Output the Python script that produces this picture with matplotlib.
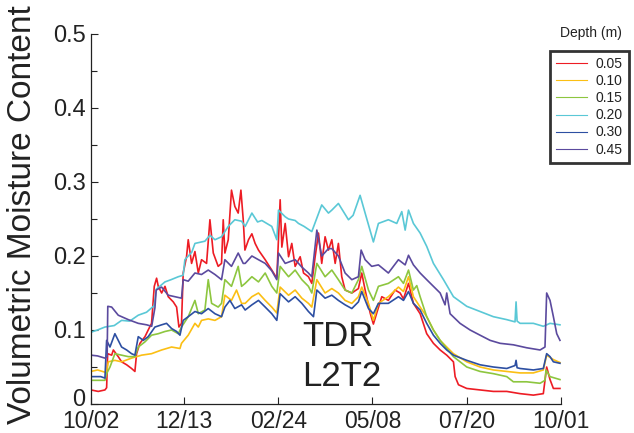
import matplotlib
matplotlib.use("Agg")
import matplotlib.pyplot as plt
import matplotlib.transforms as mtransforms
import numpy as np

plt.rcParams['font.family'] = ['Liberation Sans', 'DejaVu Sans']

# ---- data (day since 10/02, volumetric moisture content) ----
depth_labels = ['0.05', '0.10', '0.15', '0.20', '0.30', '0.45']
colors = ['#ed1c24', '#fbbf14', '#8dc63f', '#5ac8d6', '#2d4fa2', '#5b4a9e']

tick_days = [0, 72, 145, 218, 291, 364]
tick_labels = ['10/02', '12/13', '02/24', '05/08', '07/20', '10/01']

d05_days = [0, 5.6, 10.8, 12.1, 12.9, 16, 17.3, 21.1, 23.7, 27.6, 31.4, 34, 35.3, 37.9, 41.8, 44.3, 46.9, 49, 50.8, 52.1,
            54.7, 57.3, 59.8, 63.7, 66.3, 68.1, 70.1, 71.4, 74, 75.3, 77.9, 80.5, 83.1, 85.6, 89.5, 92.1, 94.7, 98.5,
            101.1, 102.4, 103.7, 106.3, 108.8, 111.4, 114, 116.1, 117.9, 119.2, 122, 124.6, 127.1, 129.7, 134.9, 140,
            143.9, 146.5, 147.8, 150.4, 153, 155.5, 158.1, 162, 164.6, 168.4, 171, 173.6, 176.2, 178.7, 181.3, 183.9,
            186.5, 189.1, 191.6, 194.2, 196.8, 202, 207.1, 209.7, 212.3, 216.2, 218.7, 221.3, 225.2, 230.3, 235.5,
            239.4, 242, 245.9, 249.7, 254.9, 260, 265.2, 270.4, 275.5, 280.7, 282, 284.6, 291, 301.3, 311.6, 322,
            332.3, 342.6, 350.3, 352.9, 355.5, 358.1, 363.2]
d05_vals = [0.019, 0.017, 0.019, 0.022, 0.068, 0.066, 0.073, 0.064, 0.057, 0.053, 0.048, 0.044, 0.068, 0.082, 0.091,
            0.100, 0.109, 0.159, 0.170, 0.159, 0.150, 0.159, 0.145, 0.138, 0.131, 0.104, 0.109, 0.177, 0.199, 0.222,
            0.190, 0.206, 0.177, 0.195, 0.190, 0.249, 0.204, 0.186, 0.190, 0.249, 0.204, 0.222, 0.289, 0.267, 0.258,
            0.289, 0.249, 0.208, 0.222, 0.230, 0.217, 0.208, 0.195, 0.181, 0.170, 0.276, 0.212, 0.244, 0.199, 0.217,
            0.186, 0.199, 0.177, 0.172, 0.163, 0.199, 0.231, 0.190, 0.226, 0.208, 0.222, 0.190, 0.217, 0.172, 0.154,
            0.150, 0.156, 0.177, 0.154, 0.123, 0.108, 0.123, 0.145, 0.140, 0.154, 0.150, 0.142, 0.163, 0.136, 0.122,
            0.095, 0.082, 0.073, 0.066, 0.057, 0.037, 0.026, 0.021, 0.019, 0.017, 0.017, 0.014, 0.012, 0.014, 0.050,
            0.033, 0.021, 0.021]

d10_days = [0, 5.1, 10.8, 12.1, 13.4, 18.5, 23.7, 31.4, 39.2, 46.9, 54.7, 62.4, 68.9, 70.1, 75.3, 80.5, 83.1, 85.6,
            90.8, 96, 101.1, 103.7, 108.8, 112.7, 116.6, 119.4, 124.6, 129.7, 134.9, 140, 143.9, 146.5, 153, 158.1,
            163.3, 168.4, 171, 174.9, 181.3, 186.5, 191.6, 196.8, 202, 207.1, 209.7, 214.9, 218.7, 222.6, 230.3,
            238.1, 242, 245.9, 249.7, 254.9, 260, 265.2, 270.4, 275.5, 280.7, 291, 301.3, 311.6, 322, 332.3, 342.6,
            350.3, 352.9, 358.1, 363.2]
d10_vals = [0.044, 0.046, 0.043, 0.044, 0.057, 0.059, 0.057, 0.062, 0.066, 0.068, 0.073, 0.077, 0.075, 0.082, 0.093,
            0.109, 0.104, 0.113, 0.115, 0.113, 0.118, 0.147, 0.140, 0.154, 0.136, 0.136, 0.145, 0.150, 0.140, 0.131,
            0.123, 0.158, 0.147, 0.154, 0.143, 0.136, 0.131, 0.168, 0.150, 0.156, 0.150, 0.140, 0.136, 0.145, 0.158,
            0.136, 0.113, 0.136, 0.145, 0.158, 0.152, 0.172, 0.145, 0.131, 0.118, 0.100, 0.086, 0.077, 0.068, 0.057,
            0.050, 0.046, 0.044, 0.042, 0.042, 0.046, 0.066, 0.060, 0.056]

d15_days = [0, 10.8, 12.1, 14.7, 18.5, 23.7, 28.9, 34, 36.6, 41.8, 46.9, 52.1, 57.3, 62.4, 67.6, 70.1, 75.3, 80.5,
            83.1, 88.2, 90.8, 93.4, 98.5, 101.1, 103.7, 108.8, 114, 116.6, 119.4, 124.6, 129.7, 134.9, 140, 143.9,
            146.5, 153, 158.1, 163.3, 168.4, 171, 174.9, 181.3, 186.5, 191.6, 196.8, 202, 207.1, 209.7, 214.9, 218.7,
            222.6, 230.3, 238.1, 242, 245.9, 249.7, 252.3, 254.9, 260, 265.2, 270.4, 275.5, 280.7, 291, 301.3, 311.6,
            322, 327.1, 337.4, 347.8, 351.6, 352.4, 355.5, 363.2]
d15_vals = [0.032, 0.032, 0.041, 0.050, 0.068, 0.066, 0.064, 0.064, 0.077, 0.084, 0.093, 0.095, 0.098, 0.100, 0.095,
            0.104, 0.118, 0.140, 0.122, 0.127, 0.168, 0.136, 0.131, 0.136, 0.168, 0.159, 0.186, 0.159, 0.163, 0.172,
            0.165, 0.177, 0.159, 0.150, 0.186, 0.172, 0.181, 0.168, 0.159, 0.150, 0.190, 0.172, 0.181, 0.168, 0.154,
            0.150, 0.168, 0.186, 0.154, 0.140, 0.159, 0.163, 0.172, 0.163, 0.181, 0.154, 0.160, 0.145, 0.118, 0.100,
            0.086, 0.075, 0.064, 0.050, 0.044, 0.041, 0.037, 0.030, 0.030, 0.028, 0.032, 0.046, 0.037, 0.033]

d20_days = [0, 5, 10.8, 18, 23.7, 30, 36.6, 43, 47, 49, 50.5, 57.3, 62, 67.6, 71.4, 72.7, 78, 80.5, 88.2, 92.1, 96,
            101.1, 106.3, 111.4, 116.6, 119.4, 124.6, 129, 132.3, 140, 143.9, 145.2, 150.4, 153, 158.1, 160.7, 165,
            171, 178.7, 183.9, 186.5, 191.6, 199.4, 203, 208.4, 212.3, 218.7, 222.6, 230.3, 236.8, 240.7, 243.3,
            245.9, 249.7, 254.9, 260, 265.2, 273, 280.7, 291, 301.3, 311.6, 322, 328.4, 329.2, 330, 332.3, 342.6,
            350.3, 355.5, 363.2]
d20_vals = [0.097, 0.100, 0.104, 0.106, 0.113, 0.112, 0.120, 0.124, 0.130, 0.133, 0.155, 0.165, 0.168, 0.172, 0.174,
            0.195, 0.205, 0.217, 0.220, 0.228, 0.222, 0.226, 0.240, 0.249, 0.247, 0.240, 0.258, 0.246, 0.248, 0.240,
            0.222, 0.262, 0.253, 0.250, 0.248, 0.244, 0.240, 0.233, 0.269, 0.258, 0.262, 0.271, 0.249, 0.255, 0.282,
            0.258, 0.219, 0.244, 0.249, 0.244, 0.260, 0.235, 0.262, 0.244, 0.231, 0.213, 0.190, 0.168, 0.145, 0.132,
            0.125, 0.118, 0.114, 0.111, 0.138, 0.112, 0.109, 0.109, 0.105, 0.109, 0.107]

d30_days = [0, 7.5, 10.8, 12.1, 14.7, 18.5, 21.1, 23.7, 27.6, 31.4, 34, 36.6, 40.5, 44.3, 49.5, 54.7, 58.5, 62.4,
            66.3, 68.9, 71.4, 75.3, 80.5, 85.6, 90.8, 96, 101.1, 103.7, 107.6, 111.4, 116.6, 119.4, 124.6, 129.7,
            134.9, 140, 143.9, 146.5, 153, 158.1, 163.3, 168.4, 172.3, 174.9, 181.3, 186.5, 191.6, 196.8, 202, 207.1,
            209.7, 214.9, 218.7, 222.6, 230.3, 238.1, 242, 245.9, 249.7, 254.9, 260, 265.2, 270.4, 275.5, 280.7, 291,
            301.3, 311.6, 322, 328.4, 329.2, 330, 332.3, 342.6, 350.3, 352.9, 355.5, 358.1, 363.2]
d30_vals = [0.037, 0.037, 0.035, 0.086, 0.077, 0.095, 0.086, 0.077, 0.073, 0.068, 0.066, 0.091, 0.086, 0.091, 0.104,
            0.107, 0.109, 0.102, 0.098, 0.093, 0.113, 0.118, 0.125, 0.122, 0.129, 0.122, 0.118, 0.131, 0.140, 0.129,
            0.134, 0.127, 0.134, 0.140, 0.131, 0.122, 0.113, 0.149, 0.138, 0.145, 0.136, 0.125, 0.118, 0.154, 0.143,
            0.147, 0.140, 0.134, 0.129, 0.138, 0.152, 0.129, 0.122, 0.136, 0.136, 0.145, 0.140, 0.152, 0.136, 0.127,
            0.109, 0.093, 0.082, 0.073, 0.066, 0.059, 0.053, 0.050, 0.048, 0.052, 0.059, 0.049, 0.048, 0.046, 0.048,
            0.068, 0.064, 0.057, 0.055]

d45_days = [0, 5, 10.8, 12.5, 13, 16, 21.1, 28.9, 36.6, 43.1, 47, 49.5, 50.5, 54.7, 59.8, 65, 70.1, 71.4, 75.3, 80.5,
            85.6, 90.8, 96, 101.1, 103.7, 108.8, 114, 117.9, 119.4, 124.6, 129.7, 134.9, 140, 143.9, 145.2, 150.4,
            158.1, 163.3, 168.4, 171, 174.9, 178.7, 183.9, 186.5, 191.6, 196.8, 202, 207.1, 209.2, 212.3, 217.4,
            222.6, 230.3, 238.1, 243.3, 245.9, 249.7, 254.9, 260, 265.2, 270.4, 274.2, 275.5, 278.1, 285.8, 293.6,
            301.3, 309.1, 316.8, 327.1, 337.4, 347.8, 351.6, 352.9, 355.5, 358.1, 360.7, 363.2]
d45_vals = [0.066, 0.065, 0.062, 0.064, 0.132, 0.131, 0.120, 0.114, 0.109, 0.107, 0.105, 0.130, 0.154, 0.158, 0.147,
            0.145, 0.143, 0.168, 0.166, 0.177, 0.175, 0.181, 0.175, 0.168, 0.195, 0.186, 0.204, 0.190, 0.190, 0.200,
            0.195, 0.190, 0.180, 0.168, 0.204, 0.190, 0.195, 0.185, 0.177, 0.172, 0.235, 0.200, 0.210, 0.210, 0.200,
            0.177, 0.168, 0.172, 0.208, 0.195, 0.186, 0.188, 0.177, 0.195, 0.188, 0.201, 0.188, 0.177, 0.168, 0.159,
            0.150, 0.134, 0.150, 0.122, 0.109, 0.100, 0.093, 0.086, 0.082, 0.080, 0.076, 0.073, 0.077, 0.150, 0.140,
            0.118, 0.095, 0.086]

series_days = [d05_days, d10_days, d15_days, d20_days, d30_days, d45_days]
series_vals = [d05_vals, d10_vals, d15_vals, d20_vals, d30_vals, d45_vals]

# ---- figure ----
W, H = 634, 433
fig = plt.figure(figsize=(W / 100, H / 100), dpi=100)
ax = fig.add_axes([91 / W, 29 / H, 470 / W, 370 / H])

for days, vals, c, lab in zip(series_days, series_vals, colors, depth_labels):
    ax.plot(days, vals, color=c, lw=1.2, label=lab)

ax.set_xlim(0, 364)
ax.set_ylim(0, 0.5)
ax.set_xticks(tick_days)
ax.set_xticklabels(tick_labels)
ax.set_yticks([0, 0.1, 0.2, 0.3, 0.4, 0.5])
ax.set_yticklabels(['0', '0.1', '0.2', '0.3', '0.4', '0.5'])
ax.set_yticks(np.arange(0.05, 0.5, 0.1), minor=True)
ax.tick_params(axis='both', which='both', direction='in', colors='#222222')
ax.tick_params(axis='both', which='major', length=5, width=0.8)
ax.tick_params(axis='y', which='major', pad=4, labelsize=17)
ax.tick_params(axis='x', which='major', pad=4.5, labelsize=16.5)
ax.tick_params(axis='y', which='minor', length=4, width=0.8)
# lift the "0" label a little, as in the reference
zero_lbl = ax.get_yticklabels()[0]
zero_lbl.set_transform(zero_lbl.get_transform() +
                       mtransforms.ScaledTranslation(0, 6 / 100, fig.dpi_scale_trans))
for s in ['top', 'right']:
    ax.spines[s].set_visible(False)
for s in ['left', 'bottom']:
    ax.spines[s].set_linewidth(0.9)
    ax.spines[s].set_color('#222222')

fig.text(23 / W, 1 - 215 / H, 'Volumetric Moisture Content', rotation=90, fontsize=24,
         ha='center', va='center', color='#222222')

fig.text(338 / W, 1 - 336 / H, 'TDR', fontsize=25, ha='center', va='center', color='#222222')
fig.text(342 / W, 1 - 377 / H, 'L2T2', fontsize=25, ha='center', va='center', color='#222222')

# legend
fig.text(591 / W, 1 - 33 / H, 'Depth (m)', fontsize=10, ha='center', va='center', color='#222222')
leg_handles = [plt.Line2D([], [], color=c, lw=0.8) for c in colors]
leg = fig.legend(leg_handles, depth_labels, loc='upper left',
                 bbox_to_anchor=(550 / W, 1 - 51 / H), bbox_transform=fig.transFigure,
                 fontsize=10, frameon=True, fancybox=False, borderaxespad=0,
                 handlelength=2.2, handletextpad=0.6, labelspacing=0.22, borderpad=0.45)
leg.get_frame().set_edgecolor('black')
leg.get_frame().set_linewidth(2.0)
for t in leg.get_texts():
    t.set_color('#222222')

fig.savefig('out.png', dpi=100)
